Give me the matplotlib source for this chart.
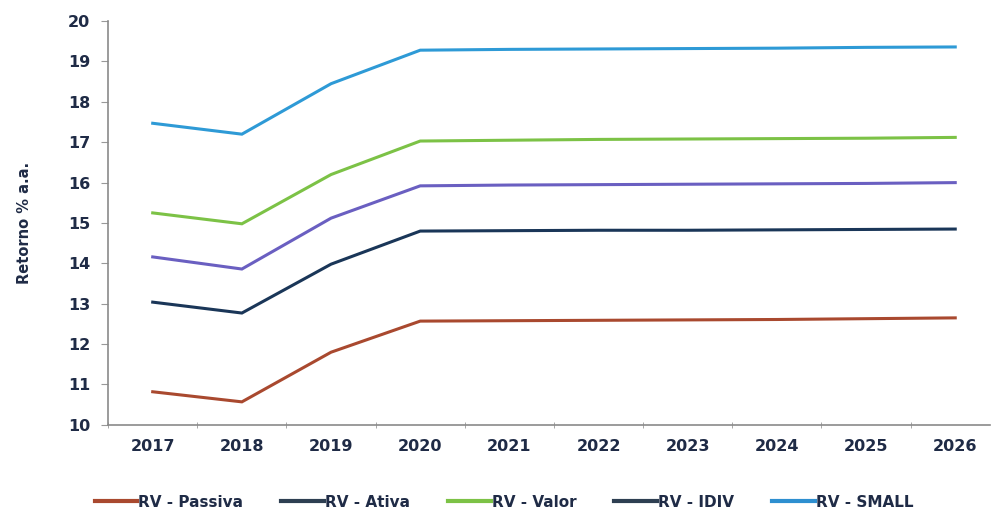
import matplotlib.pyplot as plt
from matplotlib.lines import Line2D
from matplotlib.ticker import FixedLocator

years = ['2017', '2018', '2019', '2020', '2021', '2022', '2023', '2024', '2025', '2026']

rv_passiva = [10.82, 10.57, 11.80, 12.57, 12.58, 12.59, 12.60, 12.61, 12.63, 12.65]
rv_ativa = [13.04, 12.77, 13.98, 14.80, 14.81, 14.82, 14.82, 14.83, 14.84, 14.85]
rv_valor = [15.25, 14.98, 16.20, 17.03, 17.05, 17.07, 17.08, 17.09, 17.10, 17.12]
rv_idiv = [14.16, 13.86, 15.12, 15.92, 15.94, 15.95, 15.96, 15.97, 15.98, 16.00]
rv_small = [17.47, 17.20, 18.45, 19.28, 19.30, 19.31, 19.32, 19.33, 19.35, 19.36]

labels = ['RV - Passiva', 'RV - Ativa', 'RV - Valor', 'RV - IDIV', 'RV - SMALL']
line_colors = ['#a9492f', '#1a3658', '#7cc246', '#6a5fc1', '#2e9ad6']
legend_colors = ['#a9492f', '#2e3f52', '#7cc246', '#2e3f52', '#2e8fd0']
txt = '#1f2b46'

fig = plt.figure(figsize=(9.92, 5.15), dpi=100)
ax = fig.add_axes([0.109, 0.175, 0.889, 0.784])

x = range(len(years))
for vals, c in zip([rv_passiva, rv_ativa, rv_valor, rv_idiv, rv_small], line_colors):
    ax.plot(x, vals, color=c, lw=2.2, solid_joinstyle='miter')

ax.set_ylim(10, 20)
ax.set_yticks(range(10, 21))
ax.set_xlim(-0.5, 9.39)
ax.set_xticks(list(x))
ax.set_xticklabels(years)
ax.xaxis.set_minor_locator(FixedLocator([i + 0.5 for i in range(-1, 10)]))
ax.tick_params(axis='x', which='major', length=0, pad=10)
ax.tick_params(axis='x', which='minor', length=5, color='#999999', direction='inout')
ax.tick_params(axis='y', length=5, color='#999999', direction='out', pad=8)
for lab in ax.get_xticklabels() + ax.get_yticklabels():
    lab.set_fontsize(11.5)
    lab.set_fontweight('bold')
    lab.set_color(txt)

for s in ['top', 'right']:
    ax.spines[s].set_visible(False)
for s in ['left', 'bottom']:
    ax.spines[s].set_color('#8a8a8a')
    ax.spines[s].set_linewidth(1.2)

ax.set_ylabel('Retorno % a.a.', fontsize=10.5, fontweight='bold', color=txt, labelpad=26)

handles = [Line2D([], [], color=c, lw=3) for c in legend_colors]
leg = fig.legend(handles, labels, loc='center', bbox_to_anchor=(0.508, 0.025), ncol=5,
                 frameon=False, handlelength=2.8, handletextpad=0.05, columnspacing=2.5,
                 prop={'size': 11, 'weight': 'bold'})
for t in leg.get_texts():
    t.set_color(txt)

fig.savefig('out.png', dpi=100)
